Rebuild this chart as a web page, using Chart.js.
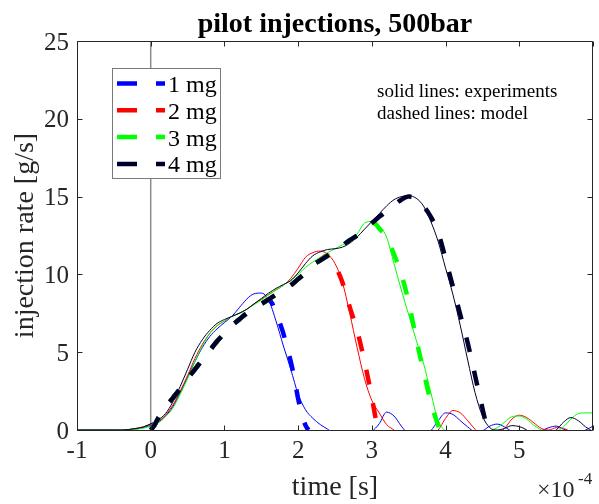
<!DOCTYPE html>
<html>
<head>
<meta charset="utf-8">
<script src="https://cdn.jsdelivr.net/npm/chart.js@4.4.0/dist/chart.umd.min.js"></script>
<style>
  html, body { margin: 0; padding: 0; background: #fff; }
  #wrap { width: 599px; height: 504px; position: relative; }
</style>
</head>
<body>
<div id="wrap"><canvas id="viz"></canvas></div>
<script>
// time axis is in units of 1e-4 s, rate in g/s
const xTicks = [-1, 0, 1, 2, 3, 4, 5, 6];
const yTicks = [0, 5, 10, 15, 20, 25];
const seriesNames = ['1 mg', '2 mg', '3 mg', '4 mg'];
const seriesColors = ['#0000ff', '#ff0000', '#00ff00', '#00002e'];

// measured rate (solid lines), all on one time grid
const expTime = [-1.0, -0.5, -0.4, -0.3, -0.2, -0.1,
  0.0, 0.1, 0.2, 0.3, 0.4, 0.5, 0.6, 0.7, 0.8, 0.9,
  1.0, 1.1, 1.2, 1.3, 1.4, 1.5, 1.6, 1.7, 1.8, 1.9,
  2.0, 2.1, 2.2, 2.3, 2.4, 2.5, 2.6, 2.7, 2.8, 2.9,
  3.0, 3.1, 3.2, 3.3, 3.4, 3.5, 3.6, 3.7, 3.8, 3.9,
  4.0, 4.1, 4.2, 4.3, 4.4, 4.5, 4.6, 4.7, 4.8, 4.9,
  5.0, 5.1, 5.2, 5.3, 5.4, 5.5, 5.6, 5.7, 5.8, 5.9, 6.0];

const exp1mg = [0, 0, 0, 0.02, 0.07, 0.15,
  0.3, 0.5, 0.9, 1.5, 2.4, 3.4, 4.4, 5.3, 6.0, 6.5,
  6.9, 7.3, 7.85, 8.4, 8.75, 8.8, 8.35, 7.0, 5.4, 3.9,
  2.3, 1.3, 0.75, 0.35, 0.05, -0.3, -0.6, -0.8, -0.7, -0.4,
  -0.1, 0.4, 1.15, 0.9, 0.25, -0.3, -0.6, -0.4, -0.05, 0.6,
  1.1, 1.0, 0.6, 0.2, -0.1, -0.05, 0.25, 0.38, 0.2, -0.1,
  -0.3, -0.35, -0.25, -0.05, 0.15, 0.25, 0.05, -0.1, -0.15, 0.0, 0.25];

const exp2mg = [0, 0, 0, 0.03, 0.1, 0.2,
  0.38, 0.55, 0.95, 1.6, 2.5, 3.5, 4.6, 5.5, 6.2, 6.7,
  7.0, 7.3, 7.5, 7.75, 8.1, 8.4, 8.7, 9.0, 9.3, 9.75,
  10.4, 11.1, 11.4, 11.5, 11.3, 10.7, 9.5, 7.5, 5.3, 3.3,
  1.9, 1.1, 0.35, 0.0, -0.4, -0.7, -0.8, -0.6, -0.3, 0.0,
  0.75, 1.25, 1.1, 0.6, 0.05, -0.4, -0.5, -0.2, 0.1, 0.7,
  0.95, 0.8, 0.45, 0.1, 0.0, 0.15, 0.1, -0.1, -0.3, -0.2, 0.0];

const exp3mg = [0, 0, 0, 0.01, 0.05, 0.12,
  0.25, 0.45, 0.85, 1.4, 2.3, 3.3, 4.4, 5.4, 6.2, 6.7,
  7.0, 7.3, 7.5, 7.75, 8.05, 8.35, 8.7, 9.0, 9.3, 9.65,
  10.0, 10.45, 10.8, 11.1, 11.4, 11.65, 11.9, 12.2, 12.6, 13.3,
  13.4, 13.1, 12.4, 10.7, 9.0, 7.4, 5.8, 4.3, 2.4, 0.6,
  -0.1, -0.6, -0.9, -0.8, -0.5, -0.2, -0.05, 0.15, 0.5, 0.85,
  0.9, 0.7, 0.3, 0.0, -0.2, -0.1, 0.2, 0.7, 1.05, 1.1, 1.1];

const exp4mg = [0, 0, 0, 0.03, 0.1, 0.2,
  0.4, 0.65, 1.05, 1.8, 2.8, 3.9, 5.0, 5.8, 6.4, 6.85,
  7.1, 7.3, 7.5, 7.75, 8.1, 8.45, 8.8, 9.1, 9.35, 9.6,
  10.1, 10.7, 11.2, 11.45, 11.6, 11.65, 11.75, 12.0, 12.4, 12.9,
  13.4, 13.9, 14.4, 14.8, 15.0, 15.05, 14.9, 14.4, 13.4, 12.1,
  10.4, 8.7, 6.7, 4.5, 2.4, 0.9, 0.15, 0.0, 0.1, 0.28,
  0.22, 0.0, -0.4, -0.5, -0.2, 0.0, 0.5, 0.8, 0.6, 0.2, -0.1];

// model rate (dashed lines)
const modelTime1mg = [0, 0.05, 0.1, 0.2, 0.3, 0.4, 0.5, 0.6, 0.7, 0.8, 0.9, 1.0, 1.1, 1.2, 1.3, 1.4, 1.5,
  1.55, 1.6, 1.65, 1.7, 1.75, 1.8, 1.85, 1.9, 1.95, 2.0, 2.05, 2.1, 2.14];
const model1mg = [0, 0.3, 0.75, 1.45, 2.05, 2.65, 3.3, 3.9, 4.5, 5.1, 5.7, 6.2, 6.7, 7.1, 7.5, 7.8, 8.1,
  8.25, 8.35, 8.1, 7.5, 6.9, 6.2, 5.3, 4.4, 3.3, 2.0, 1.0, 0.3, 0];

const modelTime2mg = [0, 0.05, 0.1, 0.2, 0.3, 0.4, 0.5, 0.6, 0.7, 0.8, 0.9, 1.0, 1.1, 1.2, 1.3, 1.4, 1.5,
  1.6, 1.7, 1.8, 1.9, 2.0, 2.1, 2.2, 2.3, 2.4, 2.45, 2.5, 2.55, 2.6, 2.7, 2.8, 2.9, 3.0, 3.05, 3.1];
const model2mg = [0, 0.3, 0.75, 1.45, 2.05, 2.65, 3.3, 3.9, 4.5, 5.1, 5.7, 6.2, 6.7, 7.1, 7.5, 7.8, 8.1,
  8.4, 8.7, 9.0, 9.3, 9.7, 10.1, 10.6, 10.9, 11.2, 11.1, 10.7, 10.1, 9.5, 7.9, 6.4, 4.4, 2.1, 0.8, 0];

const modelTime3mg = [0, 0.05, 0.1, 0.2, 0.3, 0.4, 0.5, 0.6, 0.7, 0.8, 0.9, 1.0, 1.1, 1.2, 1.3, 1.4, 1.5,
  1.6, 1.7, 1.8, 1.9, 2.0, 2.1, 2.2, 2.3, 2.4, 2.5, 2.6, 2.7, 2.8, 2.9, 3.0,
  3.05, 3.1, 3.2, 3.3, 3.4, 3.5, 3.6, 3.7, 3.8, 3.9, 3.93];
const model3mg = [0, 0.3, 0.75, 1.45, 2.05, 2.65, 3.3, 3.9, 4.5, 5.1, 5.7, 6.2, 6.7, 7.1, 7.5, 7.8, 8.1,
  8.4, 8.7, 9.0, 9.3, 9.7, 10.1, 10.6, 10.9, 11.2, 11.5, 11.85, 12.2, 12.5, 12.9, 13.3,
  13.25, 12.95, 12.4, 11.3, 10.0, 8.2, 5.9, 3.8, 1.8, 0.3, 0];

const modelTime4mg = [0, 0.05, 0.1, 0.2, 0.3, 0.4, 0.5, 0.6, 0.7, 0.8, 0.9, 1.0, 1.1, 1.2, 1.3, 1.4, 1.5,
  1.6, 1.7, 1.8, 1.9, 2.0, 2.1, 2.2, 2.3, 2.4, 2.5, 2.6, 2.7, 2.8, 2.9, 3.0,
  3.1, 3.2, 3.3, 3.4, 3.5, 3.6, 3.7, 3.8, 3.9, 4.0, 4.1, 4.2, 4.3, 4.4, 4.5, 4.55, 4.58];
const model4mg = [0, 0.3, 0.75, 1.45, 2.05, 2.65, 3.3, 3.9, 4.5, 5.1, 5.7, 6.2, 6.7, 7.1, 7.5, 7.8, 8.1,
  8.4, 8.7, 9.0, 9.3, 9.7, 10.1, 10.6, 10.9, 11.2, 11.5, 11.85, 12.2, 12.5, 12.9, 13.3,
  13.7, 14.05, 14.45, 14.8, 15.0, 14.9, 14.4, 13.7, 12.7, 11.0, 9.2, 7.4, 5.6, 3.5, 1.4, 0.4, 0];

// injection start marker (gray vertical line at t = 0)
const startLineX = [0, 0];
const startLineY = [0, 25];

const FONT = "'Liberation Serif', 'Times New Roman', Times, serif";
const AXIS_COLOR = '#262626';

function pts(xs, ys) {
  return xs.map(function(v, i) { return { x: v, y: ys[i] }; });
}

var expSeries = [exp1mg, exp2mg, exp3mg, exp4mg];
var modelSeries = [[modelTime1mg, model1mg], [modelTime2mg, model2mg], [modelTime3mg, model3mg], [modelTime4mg, model4mg]];

var datasets = [{
  data: pts(startLineX, startLineY),
  borderColor: '#8c8c8c', borderWidth: 1.5, order: 100, clip: 0
}];
expSeries.forEach(function(ys, i) {
  datasets.push({
    data: pts(expTime, ys),
    borderColor: seriesColors[i], borderWidth: 1, order: 50 - i, clip: 0
  });
});
modelSeries.forEach(function(m, i) {
  datasets.push({
    label: seriesNames[i], isModel: true,
    data: pts(m[0], m[1]),
    borderColor: seriesColors[i], borderWidth: 4.5, borderDash: [15, 19],
    borderCapStyle: 'butt', order: 10 - i, clip: 0
  });
});

// matlab look: boxed axes with inward ticks, legend box, notes, title
var matlabDecor = {
  id: 'matlabDecor',
  afterDatasetsDraw: function(chart) {
    var ctx = chart.ctx, a = chart.chartArea, x = chart.scales.x, y = chart.scales.y;
    var L = Math.round(a.left) + 0.5, R = Math.round(a.right) - 0.5;
    var T = Math.round(a.top) + 0.5, B = Math.round(a.bottom) + 0.5;
    ctx.save();
    ctx.strokeStyle = AXIS_COLOR;
    ctx.lineWidth = 1;
    ctx.beginPath();
    ctx.moveTo(L, T); ctx.lineTo(R, T); ctx.lineTo(R, B); ctx.lineTo(L, B); ctx.closePath();
    xTicks.forEach(function(v) {
      var px = Math.round(x.getPixelForValue(v)) + 0.5;
      ctx.moveTo(px, B); ctx.lineTo(px, B - 5);
      ctx.moveTo(px, T); ctx.lineTo(px, T + 5);
    });
    yTicks.forEach(function(v) {
      var py = Math.round(y.getPixelForValue(v)) + 0.5;
      ctx.moveTo(L, py); ctx.lineTo(L + 5, py);
      ctx.moveTo(R, py); ctx.lineTo(R - 5, py);
    });
    ctx.stroke();

    // legend
    ctx.fillStyle = '#ffffff';
    ctx.fillRect(112, 68, 109, 111);
    ctx.strokeStyle = '#7a7a7a';
    ctx.strokeRect(112.5, 68.5, 108, 110);
    var models = chart.data.datasets.filter(function(d) { return d.isModel; });
    models.forEach(function(d, i) {
      var ry = 83.5 + i * 26.8;
      ctx.strokeStyle = d.borderColor;
      ctx.lineWidth = 4.5;
      ctx.lineCap = 'butt';
      ctx.setLineDash([20, 19]);
      ctx.beginPath();
      ctx.moveTo(117, ry); ctx.lineTo(165, ry);
      ctx.stroke();
      ctx.setLineDash([]);
      ctx.fillStyle = '#000000';
      ctx.font = '24px ' + FONT;
      ctx.textAlign = 'left';
      ctx.textBaseline = 'alphabetic';
      ctx.fillText(d.label, 168, ry + 8.5);
    });

    // notes
    ctx.fillStyle = '#000000';
    ctx.font = '19px ' + FONT;
    ctx.fillText('solid lines: experiments', 377, 97);
    ctx.fillText('dashed lines: model', 377, 119);

    // title
    ctx.font = 'bold 28px ' + FONT;
    ctx.textAlign = 'center';
    ctx.fillText('pilot injections, 500bar', (a.left + a.right) / 2, 32);

    // exponent label of the time axis
    ctx.fillStyle = AXIS_COLOR;
    ctx.textAlign = 'left';
    ctx.font = '24px ' + FONT;
    ctx.fillText('\u00d710', 537, 497);
    ctx.font = '17px ' + FONT;
    ctx.fillText('-4', 578, 484);
    ctx.restore();
  }
};

var tickFont = { family: FONT, size: 25 };
var labelFont = { family: FONT, size: 28 };

var chart = new Chart(document.getElementById('viz'), {
  type: 'line',
  data: { datasets: datasets },
  options: {
    responsive: true,
    maintainAspectRatio: false,
    animation: false,
    devicePixelRatio: 1,
    layout: { padding: { top: 41, right: 0, bottom: 0, left: 0 } },
    elements: {
      point: { radius: 0 },
      line: { cubicInterpolationMode: 'monotone' }
    },
    plugins: {
      legend: { display: false },
      tooltip: { enabled: false },
      title: { display: false }
    },
    scales: {
      x: {
        type: 'linear', min: -1, max: 6,
        grid: { display: false, drawTicks: false },
        border: { display: false },
        ticks: {
          stepSize: 1, padding: 6, maxRotation: 0, autoSkip: false,
          color: AXIS_COLOR, font: tickFont,
          callback: function(v) { return v === 6 ? '' : String(v); }
        },
        title: { display: true, text: 'time [s]', color: AXIS_COLOR, font: labelFont, padding: 0 },
        afterFit: function(s) { s.height = 74; }
      },
      y: {
        type: 'linear', min: 0, max: 25,
        grid: { display: false, drawTicks: false },
        border: { display: false },
        ticks: { stepSize: 5, padding: 8, labelOffset: 2, color: AXIS_COLOR, font: tickFont },
        title: { display: true, text: 'injection rate [g/s]', color: AXIS_COLOR, font: labelFont, padding: { top: 9, bottom: 0 } },
        afterFit: function(s) { s.width = 77; }
      }
    }
  },
  plugins: [matlabDecor]
});
</script>
</body>
</html>
